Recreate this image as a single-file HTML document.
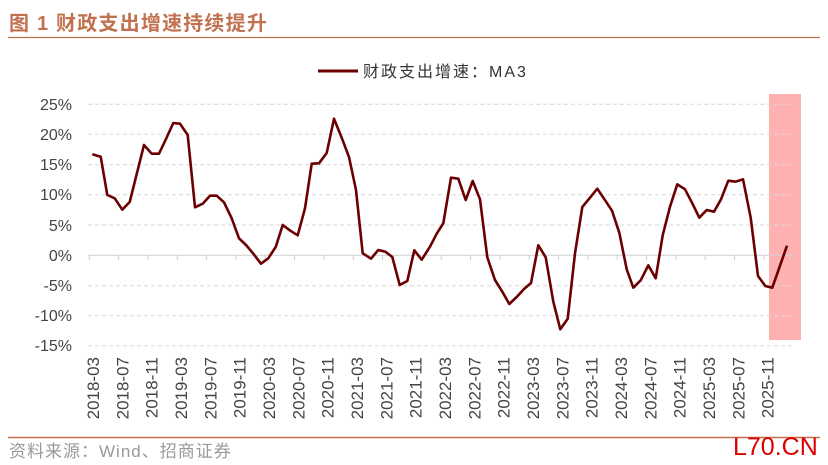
<!DOCTYPE html>
<html><head><meta charset="utf-8"><style>
body{margin:0;background:#fff;width:828px;height:465px;overflow:hidden}
svg{display:block}
</style></head><body>
<svg width="828" height="465" viewBox="0 0 828 465" font-family="'Liberation Sans','Noto Sans CJK SC',sans-serif">
<text x="9" y="30" font-size="20" font-weight="bold" fill="#c2714f" letter-spacing="1.2">图 1  财政支出增速持续提升</text>
<line x1="8" y1="37.5" x2="820" y2="37.5" stroke="#c2714f" stroke-width="1.2"/>
<line x1="318" y1="71" x2="358" y2="71" stroke="#6b0000" stroke-width="3"/>
<text x="363" y="77" font-size="16" fill="#333" letter-spacing="2">财政支出增速：MA3</text>
<rect x="769" y="94" width="32" height="246" fill="#ffb0b0"/>
<g stroke="#d8d8d8" stroke-dasharray="4,3" stroke-width="1">
<line x1="88" y1="104.3" x2="792" y2="104.3"/><line x1="88" y1="134.3" x2="792" y2="134.3"/>
<line x1="88" y1="164.7" x2="792" y2="164.7"/><line x1="88" y1="194.7" x2="792" y2="194.7"/>
<line x1="88" y1="225" x2="792" y2="225"/><line x1="88" y1="285.7" x2="792" y2="285.7"/>
<line x1="88" y1="315.7" x2="792" y2="315.7"/><line x1="88" y1="345.7" x2="792" y2="345.7"/>
</g>
<line x1="88" y1="255.3" x2="792" y2="255.3" stroke="#d0d0d0" stroke-width="1"/>
<g stroke="#d0d0d0" stroke-width="1" id="ticks"></g>
<g font-size="16" fill="#444" text-anchor="end">
<text x="72" y="110">25%</text><text x="72" y="140">20%</text><text x="72" y="170">15%</text>
<text x="72" y="200">10%</text><text x="72" y="231">5%</text><text x="72" y="261">0%</text>
<text x="72" y="291">-5%</text><text x="72" y="321">-10%</text><text x="72" y="351">-15%</text>
</g>
<g font-size="17" fill="#444" text-anchor="end" id="xl"></g>
<polyline fill="none" stroke="#6b0000" stroke-width="2.6" stroke-linejoin="round" points="
92.3,154.3 100.7,156.7 107.3,195 114.7,198.3 122.3,209.7 129.7,202 137.3,171.7 144,145 151.7,153.7 159,153.7 166,139 173.3,123 180,123.7 187.7,135 195,207.3 202.7,203.7 210,195.7 216.7,195.7 224,202.3 231.7,218.3 239,238.3 246,245 253.3,253.7 261,263.7 268.3,258.3 275.7,247 282.7,225 290.3,230.7 297.7,235.3 305,208.3 311.7,163.7 319,163.3 326.7,153 334,118.7 341.7,137.7 349,157 356,190 362.7,253.3 371,258.7 378.3,250 385.3,251.7 392.3,257 399.7,285 407.3,281 414.3,250.3 421.7,259.7 430,246.7
436.7,233.7 443.3,223.3 451,177.7 458.3,178.7 465.7,200 472.7,181 480,199.3 487.3,257.3 495,280 502.3,291.7 509.3,304 516.7,297 524,289 531,283 538.3,245.3 545.7,257.3 553.3,301.7 560.3,329.3 567.7,318.7 575,253.3 582.3,207 590,197.7 597.3,188.7 604.7,199.7 612,210.7 619.3,232.7 626.7,269.3 633.3,287.7 640.7,280.3 648.3,265.3 655.7,278.3 662.7,235.3 670,206.7 677.3,184.3 685,189.3 692.3,203.3 699.3,217.7 706.7,210 714,211.7 721,199.3 728.3,180.7 735.7,181.7 743,179.3 750.7,217.7 758,276 765.3,286 772.3,287.7 787,245.7"/>
<line x1="8" y1="437.5" x2="820" y2="437.5" stroke="#c2714f" stroke-width="1.5"/>
<text x="9" y="457" font-size="17" fill="#999" letter-spacing="1">资料来源：Wind、招商证券</text>
<text x="733" y="455" font-size="25" fill="#dd0000">L70.CN</text>
<script>
var t=document.getElementById('ticks'),xl=document.getElementById('xl'),ns='http://www.w3.org/2000/svg';
for(var i=0;i<25;i++){var x=89.3+i*29.33;var l=document.createElementNS(ns,'line');l.setAttribute('x1',x);l.setAttribute('x2',x);l.setAttribute('y1',255.3);l.setAttribute('y2',260);t.appendChild(l);}
var m=['03','07','11'];
for(var i=0;i<24;i++){var yr=2018+Math.floor(i/3);var x=99+i*29.33;var e=document.createElementNS(ns,'text');e.setAttribute('transform','translate('+x+',357) rotate(-90)');e.textContent=yr+'-'+m[i%3];xl.appendChild(e);}
</script>
</svg>
</body></html>
